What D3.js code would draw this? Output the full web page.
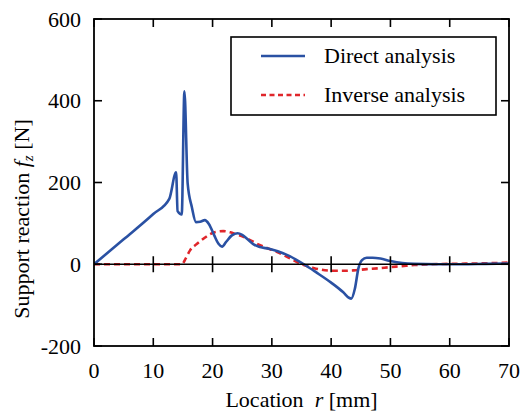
<!DOCTYPE html>
<html><head><meta charset="utf-8">
<script src="https://cdn.jsdelivr.net/npm/d3@7"></script>
</head><body style="margin:0;background:#fff">
<svg id="s" width="521" height="412" font-family="Liberation Serif" style="display:block"></svg>
<script>
const xTicks = [0,10,20,30,40,50,60,70];
const yTicks = [-200,0,200,400,600];
const directR = [0,5,10,12.7,13.85,14.1,14.8,15.25,15.8,16.5,17.2,17.9,18.7,19.4,20.3,21.0,21.6,22.3,23.2,24.2,25.0,26.0,27.0,28.0,29.5,31.0,33.0,35.4,37.5,40.0,42.0,43.0,43.4,44.0,44.6,45.2,46.0,47.0,48.3,50.0,52.0,54.0,58.0,62.0,66.0,70.0];
const directV = [0,61,123,160,225,130,122,423,197,140,103,104,108,98,70,50,43,55,70,76,72,60,48,42,38,32,20,0,-20,-45,-68,-82,-84,-60,-10,10,16,16,14,8,3,1,0,0,1,2];
const inverseR = [0,14.8,15.5,16.2,17.2,18.5,19.5,20.5,21.8,23.0,24.0,25.2,26.5,27.5,29.0,30.9,33.1,35.4,37,38.2,40.4,42,43.8,46,47.8,50,51.7,54,56.8,60,65,70];
const inverseV = [0,0,15,34,48,63,73,79,81,78,73,67,58,50,41,30,14,-2,-9,-13,-16,-16,-15,-12,-10,-7,-5,-2,0,1,2,4];
const seriesNames = ["Direct analysis","Inverse analysis"];

const L=94,R=509,T=19,B=346;
const svg=d3.select("#s");
const x=d3.scaleLinear().domain([0,70]).range([L,R]);
const y=d3.scaleLinear().domain([-200,600]).range([B,T]);
const blue="#2a51a3", red="#e0262b";

svg.append("clipPath").attr("id","cp").append("rect").attr("x",L).attr("y",T).attr("width",R-L).attr("height",B-T);

const line=d3.line().x(d=>x(d[0])).y(d=>y(d[1])).curve(d3.curveMonotoneX);
const g=svg.append("g").attr("clip-path","url(#cp)");
g.append("path").datum(inverseR.map((r,i)=>[r,inverseV[i]])).attr("d",line)
 .attr("fill","none").attr("stroke",red).attr("stroke-width",2.6).attr("stroke-dasharray","6,4");
g.append("path").datum(directR.map((r,i)=>[r,directV[i]])).attr("d",line)
 .attr("fill","none").attr("stroke",blue).attr("stroke-width",2.6).attr("stroke-linejoin","round");

const zg=svg.append("g");
zg.append("line").attr("x1",L).attr("x2",R).attr("y1",y(0)).attr("y2",y(0)).attr("stroke","#000").attr("stroke-width",1.6);
zg.selectAll("line.zt").data(xTicks.slice(1,-1)).join("line").attr("class","zt")
  .attr("x1",d=>x(d)).attr("x2",d=>x(d)).attr("y1",y(0)-8).attr("y2",y(0)+8).attr("stroke","#000").attr("stroke-width",1.6);

// inward ticks on all four sides
const tk=svg.append("g").attr("stroke","#000").attr("stroke-width",1.6);
tk.selectAll("line.b").data(xTicks).join("line").attr("class","b").attr("x1",d=>x(d)).attr("x2",d=>x(d)).attr("y1",B).attr("y2",B-8);
tk.selectAll("line.t").data(xTicks).join("line").attr("class","t").attr("x1",d=>x(d)).attr("x2",d=>x(d)).attr("y1",T).attr("y2",T+8);
tk.selectAll("line.l").data(yTicks).join("line").attr("class","l").attr("x1",L).attr("x2",L+8).attr("y1",d=>y(d)).attr("y2",d=>y(d));
tk.selectAll("line.r").data(yTicks).join("line").attr("class","r").attr("x1",R).attr("x2",R-8).attr("y1",d=>y(d)).attr("y2",d=>y(d));

svg.append("rect").attr("x",L).attr("y",T).attr("width",R-L).attr("height",B-T).attr("fill","none").attr("stroke","#000").attr("stroke-width",1.8);

svg.append("g").selectAll("text").data(xTicks).join("text")
 .attr("x",d=>x(d)).attr("y",378).attr("text-anchor","middle").attr("font-size",22).attr("font-family","Liberation Serif").text(d=>d);
svg.append("g").selectAll("text").data(yTicks).join("text")
 .attr("x",81).attr("y",d=>y(d)+7.5).attr("text-anchor","end").attr("font-size",22).attr("font-family","Liberation Serif").text(d=>d);

const xl=svg.append("text").attr("x",(L+R)/2).attr("y",407).attr("text-anchor","middle").attr("font-size",22).attr("font-family","Liberation Serif");
xl.append("tspan").text("Location\u00a0\u00a0");
xl.append("tspan").attr("font-style","italic").text("r");
xl.append("tspan").text(" [mm]");
const yl=svg.append("text").attr("transform","translate(29,219) rotate(-90)").attr("text-anchor","middle").attr("font-size",22).attr("font-family","Liberation Serif");
yl.append("tspan").text("Support reaction ");
yl.append("tspan").attr("font-style","italic").text("f");
yl.append("tspan").attr("font-style","italic").attr("font-size",15).attr("dy",4).text("z");
yl.append("tspan").attr("dy",-4).text(" [N]");

const lg=svg.append("g");
lg.append("rect").attr("x",231).attr("y",37).attr("width",265).attr("height",78).attr("fill","#fff").attr("stroke","#000").attr("stroke-width",1.6);
const items=[{c:blue,d:null,yy:56},{c:red,d:"5,3.5",yy:95}];
items.forEach((it,i)=>{
  lg.append("line").attr("x1",261).attr("x2",305).attr("y1",it.yy).attr("y2",it.yy).attr("stroke",it.c).attr("stroke-width",2.4).attr("stroke-dasharray",it.d);
  lg.append("text").attr("x",324).attr("y",it.yy+7).attr("font-size",22).attr("font-family","Liberation Serif").text(seriesNames[i]);
});
</script></body></html>
